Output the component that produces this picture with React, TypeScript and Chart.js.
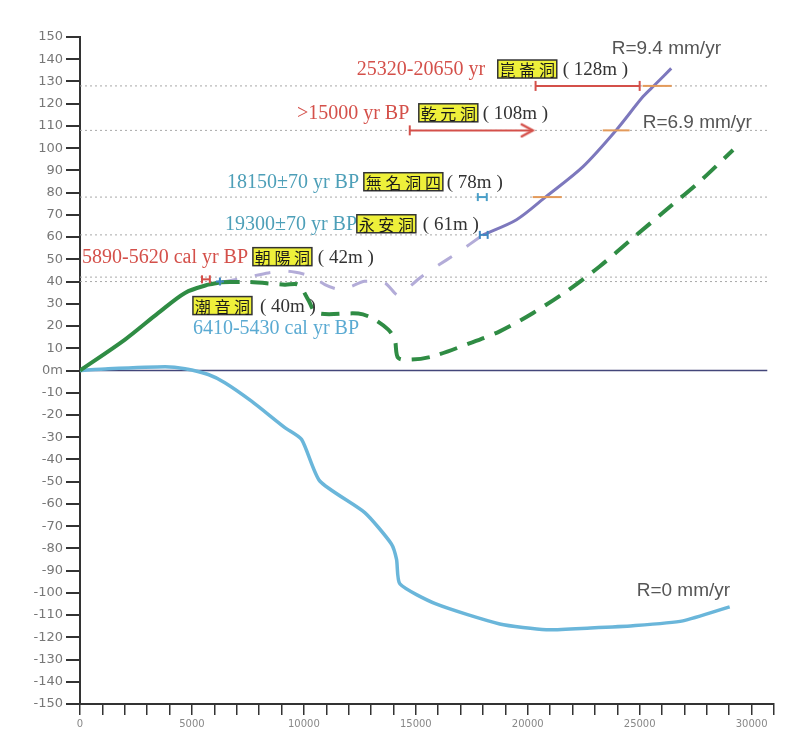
import React, { useEffect, useRef } from 'react';
import { Chart, registerables } from 'chart.js';

Chart.register(...registerables);

// ---------- data ----------
const xTickStep = 1000;
const xLabelStep = 5000;
const yTickStep = 10;

// R = 0 mm/yr (blue)
const blueX = [0, 1260, 3800, 4690, 5730, 6470, 7660, 9150, 9900, 10710, 12720, 13910, 14140, 14290, 15900, 18750, 20830, 22800, 24700, 26930, 29020];
const blueY = [0, 0.8, 1.7, 0.8, -1.8, -5.5, -13.8, -25.7, -31, -49.7, -63.9, -78, -85, -96, -105, -114, -116.6, -115.8, -114.8, -112.6, -106.3];

// R = 6.9 mm/yr (green), solid part then dashed part
const greenSolidX = [0, 2010, 3500, 4690, 5730, 6320];
const greenSolidY = [0, 13.9, 25.9, 34.9, 38.6, 39.7];
const greenDashX = [6320, 7510, 9150, 9750, 10190, 10570, 12430, 13020, 13770, 14060, 14210, 14800, 15770, 17260, 18750, 20240, 21730, 23210, 24700, 26190, 27680, 29170];
const greenDashY = [39.7, 39.8, 38.6, 38.6, 31.9, 25.9, 25.6, 23.7, 18.4, 13.9, 5.7, 4.9, 6.4, 11.7, 17.6, 25.9, 35.6, 46.8, 59.6, 72.3, 85, 99.2];

// R = 9.4 mm/yr (purple), dashed part then solid part
const purpleDashX = [6320, 7500, 8410, 9300, 10340, 10940, 11500, 11980, 12720, 13620, 14140, 14350, 15180, 15920, 16800, 18000];
const purpleDashY = [39.7, 42, 43.9, 44.6, 42.4, 38.6, 36.6, 37.3, 40.1, 39.3, 34.1, 34.5, 41.6, 46.8, 52.5, 61];
const purpleSolidX = [18000, 19500, 20830, 22470, 23960, 25150, 25670, 26410];
const purpleSolidY = [61, 67.8, 78.3, 91.7, 108.2, 123.2, 128.4, 135.9];

// cave elevation reference lines (m)
const caveLevels = [128, 108, 78, 61, 42, 40];
const levelLineEnd = 30700;

// age ranges / markers
const kunlunRange = [20350, 25000]; // at 128 m
const kunlunLevel = 128;
const qianyuanRange = [14730, 20220]; // at 108 m, open ended
const qianyuanLevel = 108;
const chaoyangRange = [5450, 5800];
const chaoyangLevel = 41;
const wumingRange = [17770, 18170];
const wumingLevel = 78;
const yonganRange = [17860, 18210];
const yonganLevel = 61;
const chaoyinPoint = [6250, 40];

// orange crossing marks on the 9.4 mm/yr curve
const orangeLevels = [128, 108, 78];
const orangeStarts = [25130, 23350, 20220];
const orangeEnds = [26430, 24550, 21520];

// ---------- annotation layout (data coordinates) ----------
type Part = { x: number; y: number; text: string; kind: string };
const annotations: Part[] = [
  { x: 12366, y: 135.6, text: '25320-20650 yr', kind: 'red' },
  { x: 18661, y: 135.6, text: '崑崙洞', kind: 'box' },
  { x: 21563, y: 135.6, text: '( 128m )', kind: 'paren' },
  { x: 9688, y: 115.9, text: '>15000 yr BP', kind: 'red' },
  { x: 15134, y: 115.9, text: '乾元洞', kind: 'box' },
  { x: 17991, y: 115.9, text: '( 108m )', kind: 'paren' },
  { x: 6563, y: 84.9, text: '18150±70 yr BP', kind: 'teal' },
  { x: 12679, y: 84.9, text: '無名洞四', kind: 'box' },
  { x: 16384, y: 84.9, text: '( 78m )', kind: 'paren' },
  { x: 6473, y: 66.0, text: '19300±70 yr BP', kind: 'teal' },
  { x: 12366, y: 66.0, text: '永安洞', kind: 'box' },
  { x: 15313, y: 66.0, text: '( 61m )', kind: 'paren' },
  { x: 89, y: 51.2, text: '5890-5620 cal yr BP', kind: 'red' },
  { x: 7723, y: 51.2, text: '朝陽洞', kind: 'box' },
  { x: 10625, y: 51.2, text: '( 42m )', kind: 'paren' },
  { x: 5045, y: 29.2, text: '潮音洞', kind: 'box' },
  { x: 8036, y: 29.2, text: '( 40m )', kind: 'paren' },
  { x: 5045, y: 19.3, text: '6410-5430 cal yr BP', kind: 'lightblue' },
  { x: 23750, y: 145.1, text: 'R=9.4 mm/yr', kind: 'rate' },
  { x: 25134, y: 111.8, text: 'R=6.9 mm/yr', kind: 'rate' },
  { x: 24866, y: -98.4, text: 'R=0 mm/yr', kind: 'rate' },
];

const styles: Record<string, { color: string; font: string }> = {
  red: { color: '#d4504a', font: '20px "Liberation Serif", "Noto Sans CJK TC"' },
  teal: { color: '#4d9fb8', font: '20px "Liberation Serif"' },
  lightblue: { color: '#5aaad2', font: '20px "Liberation Serif"' },
  paren: { color: '#333333', font: '19px "Liberation Serif"' },
  rate: { color: '#555555', font: '19px "Liberation Sans"' },
  box: { color: '#1a1a1a', font: '16px "Noto Sans CJK TC"' },
};

const RED = '#d4504a';
const BLUE_MARK = '#4a9fc8';
const pts = (xs: number[], ys: number[]) => xs.map((x, i) => ({ x, y: ys[i] }));

function makeChevron(color: string) {
  const c = document.createElement('canvas');
  c.width = 28;
  c.height = 16;
  const g = c.getContext('2d')!;
  g.strokeStyle = color;
  g.lineWidth = 2.5;
  g.lineCap = 'round';
  g.beginPath();
  g.moveTo(3, 2);
  g.lineTo(14, 8);
  g.lineTo(3, 14);
  g.stroke();
  return c;
}

const annotPlugin = {
  id: 'annots',
  afterDatasetsDraw(chart: any) {
    const { ctx } = chart;
    const xs = chart.scales.x;
    const ys = chart.scales.y;
    ctx.save();
    for (const a of annotations) {
      const st = styles[a.kind];
      const px = xs.getPixelForValue(a.x);
      const py = ys.getPixelForValue(a.y);
      if (a.kind === 'box') {
        const chars = Array.from(a.text);
        const w = chars.length * 20 - 1;
        const h = 18;
        ctx.fillStyle = '#eef03a';
        ctx.fillRect(px, py - h / 2, w, h);
        ctx.strokeStyle = '#333';
        ctx.lineWidth = 1.5;
        ctx.strokeRect(px, py - h / 2, w, h);
        ctx.fillStyle = st.color;
        ctx.font = st.font;
        ctx.textAlign = 'center';
        ctx.textBaseline = 'middle';
        chars.forEach((ch, i) => ctx.fillText(ch, px + (i + 0.5) * (w / chars.length), py + 1));
      } else {
        ctx.fillStyle = st.color;
        ctx.font = st.font;
        ctx.textAlign = 'left';
        ctx.textBaseline = 'middle';
        ctx.fillText(a.text, px, py + 1);
      }
    }
    ctx.restore();
  },
};

export default function App() {
  const ref = useRef<HTMLCanvasElement>(null);
  useEffect(() => {
    if (!ref.current) return;
    const chevron = makeChevron(RED);
    const levelSets = caveLevels.map((v) => ({
      data: [{ x: 0, y: v }, { x: levelLineEnd, y: v }],
      borderColor: '#a8a8a8',
      borderWidth: 1,
      borderDash: [2, 3],
      pointRadius: 0,
    }));
    const orangeSets = orangeLevels.map((v, i) => ({
      data: [{ x: orangeStarts[i], y: v }, { x: orangeEnds[i], y: v }],
      borderColor: '#e39a5a',
      borderWidth: 2,
      pointRadius: 0,
    }));
    const hBar = (range: number[], level: number, color: string, r: number) => ({
      data: [{ x: range[0], y: level }, { x: range[1], y: level }],
      borderColor: color,
      borderWidth: 2,
      pointStyle: 'line',
      pointRotation: 90,
      pointRadius: r,
      pointBorderColor: color,
      pointBorderWidth: 2,
    });
    const chart = new Chart(ref.current, {
      type: 'line',
      data: {
        datasets: [
          hBar(kunlunRange, kunlunLevel, RED, 5),
          {
            data: [{ x: qianyuanRange[0], y: qianyuanLevel }, { x: qianyuanRange[1], y: qianyuanLevel }],
            borderColor: RED,
            borderWidth: 2,
            pointStyle: ['line', chevron] as any,
            pointRotation: [90, 0] as any,
            pointRadius: [5, 7] as any,
            pointBorderColor: RED,
            pointBorderWidth: 2,
          },
          hBar(chaoyangRange, chaoyangLevel, RED, 4),
          hBar(wumingRange, wumingLevel, BLUE_MARK, 4),
          hBar(yonganRange, yonganLevel, '#3f86c0', 4),
          {
            data: [{ x: chaoyinPoint[0], y: chaoyinPoint[1] }],
            showLine: false,
            pointStyle: 'cross',
            pointRadius: 4,
            pointBorderColor: '#3f86c0',
            pointBorderWidth: 2,
          },
          ...orangeSets,
          {
            data: pts(greenSolidX, greenSolidY),
            borderColor: '#2f8c44',
            borderWidth: 4,
            pointRadius: 0,
            tension: 0.3,
          },
          {
            data: pts(greenDashX, greenDashY),
            borderColor: '#2f8c44',
            borderWidth: 4,
            borderDash: [18, 11],
            pointRadius: 0,
            tension: 0.3,
          },
          {
            data: pts(purpleSolidX, purpleSolidY),
            borderColor: '#7d78bd',
            borderWidth: 3,
            pointRadius: 0,
            tension: 0.3,
          },
          {
            data: pts(purpleDashX, purpleDashY),
            borderColor: '#b3acd8',
            borderWidth: 3,
            borderDash: [16, 18],
            pointRadius: 0,
            tension: 0.25,
          },
          {
            data: pts(blueX, blueY),
            borderColor: '#6ab6da',
            borderWidth: 3.5,
            pointRadius: 0,
            tension: 0.2,
          },
          {
            data: [{ x: 0, y: 0 }, { x: levelLineEnd, y: 0 }],
            borderColor: '#43467a',
            borderWidth: 1.5,
            pointRadius: 0,
          },
          ...levelSets,
        ] as any,
      },
      options: {
        responsive: false,
        animation: false,
        layout: { padding: { top: 37, right: 26, bottom: 0, left: 0 } },
        plugins: { legend: { display: false }, tooltip: { enabled: false } },
        scales: {
          x: {
            type: 'linear',
            min: 0,
            max: 31000,
            position: 'bottom',
            afterFit: (s: any) => {
              s.height = 49;
            },
            grid: { drawOnChartArea: false, tickLength: 11, color: '#333', lineWidth: 1.5 },
            border: { display: true, color: '#333', width: 2 },
            ticks: {
              stepSize: xTickStep,
              autoSkip: false,
              maxRotation: 0,
              padding: 3,
              color: '#888',
              font: { family: 'DejaVu Sans', size: 10 },
              callback: (v: any) => (Math.round(v) % xLabelStep === 0 ? String(Math.round(v)) : ''),
            },
          },
          y: {
            type: 'linear',
            min: -150,
            max: 150,
            afterFit: (s: any) => {
              s.width = 80;
            },
            grid: { drawOnChartArea: false, tickLength: 14, color: '#333', lineWidth: 2 },
            border: { display: true, color: '#333', width: 2 },
            ticks: {
              stepSize: yTickStep,
              padding: 3,
              color: '#777',
              font: { family: 'DejaVu Sans', size: 13 },
              callback: (v: any) => (Math.round(v) === 0 ? '0m' : String(Math.round(v))),
            },
          },
        },
      } as any,
      plugins: [annotPlugin],
    });
    return () => chart.destroy();
  }, []);
  return (
    <div style={{ position: 'absolute', left: 0, top: 0, width: 800, height: 753, background: '#fff' }}>
      <canvas ref={ref} width={800} height={753} style={{ display: 'block' }} />
    </div>
  );
}
